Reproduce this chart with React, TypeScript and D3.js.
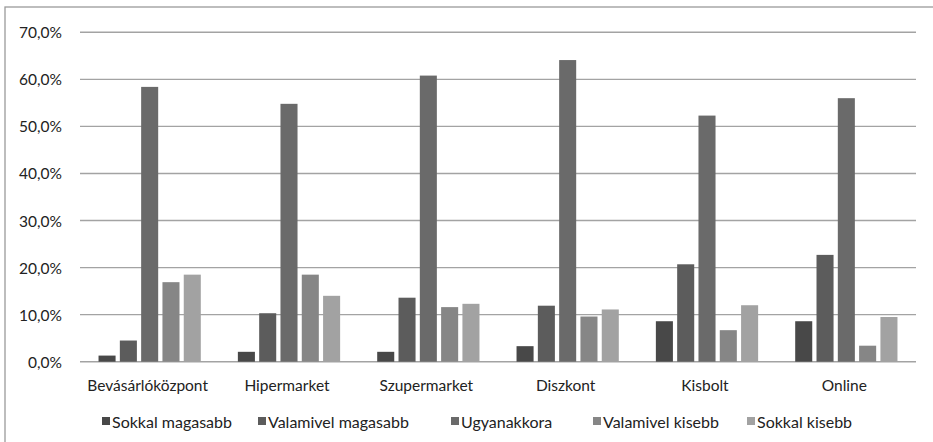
import React from "react";
import * as d3 from "d3";

const categories = ["Bevásárlóközpont", "Hipermarket", "Szupermarket", "Diszkont", "Kisbolt", "Online"];
const seriesNames = ["Sokkal magasabb", "Valamivel magasabb", "Ugyanakkora", "Valamivel kisebb", "Sokkal kisebb"];
const sokkalMagasabb = [1.3, 2.1, 2.1, 3.3, 8.6, 8.6];
const valamivelMagasabb = [4.5, 10.3, 13.6, 11.9, 20.7, 22.7];
const ugyanakkora = [58.4, 54.8, 60.8, 64.1, 52.3, 56.0];
const valamivelKisebb = [16.9, 18.5, 11.6, 9.6, 6.7, 3.4];
const sokkalKisebb = [18.5, 14.0, 12.3, 11.1, 12.0, 9.5];
const yTicks = [0, 10, 20, 30, 40, 50, 60, 70];

const seriesValues = [sokkalMagasabb, valamivelMagasabb, ugyanakkora, valamivelKisebb, sokkalKisebb];
const colors = ["#484848", "#5c5c5c", "#6a6a6a", "#868686", "#a2a2a2"];

const W = 933;
const H = 442;
const FONT = "Lato, 'Open Sans', sans-serif";

export default function App() {
  const left = 80;
  const right = 916;
  const top = 32.3;
  const bottom = 361.7;

  const x = d3.scaleBand<string>().domain(categories).range([left, right]).paddingInner(0).paddingOuter(0);
  const xs = d3
    .scaleBand<number>()
    .domain(d3.range(seriesNames.length))
    .range([0, x.bandwidth()])
    .paddingInner(0.2)
    .paddingOuter(0.87);
  const y = d3.scaleLinear().domain([0, 70]).range([bottom, top]);

  const fmt = (v: number) => v.toFixed(1).replace(".", ",") + "%";

  const legendX = [102, 258, 451, 593, 747];

  return (
    <svg width={W} height={H} style={{ position: "absolute", left: 0, top: 0, background: "#fff" }}>
      <rect x={5} y={7} width={W + 20} height={H + 20} fill="#fff" stroke="#9a9a9a" strokeWidth={1.3} />
      {yTicks.map((t) => (
        <g key={t}>
          <line x1={left} x2={right} y1={y(t)} y2={y(t)} stroke="#a3a3a3" strokeWidth={1.4} />
          <text
            x={62}
            y={y(t)}
            textAnchor="end"
            dominantBaseline="central"
            fontFamily={FONT}
            fontSize={15.5}
            fill="#222"
          >
            {fmt(t)}
          </text>
        </g>
      ))}
      {categories.map((c, ci) => (
        <g key={c}>
          {seriesValues.map((vals, si) => (
            <rect
              key={si}
              x={(x(c) as number) + (xs(si) as number)}
              y={y(vals[ci])}
              width={xs.bandwidth()}
              height={bottom - y(vals[ci])}
              fill={colors[si]}
            />
          ))}
          <text
            x={(x(c) as number) + x.bandwidth() / 2 - 2}
            y={385}
            textAnchor="middle"
            dominantBaseline="central"
            fontFamily={FONT}
            fontSize={15.5}
            fill="#222"
          >
            {c}
          </text>
        </g>
      ))}
      {seriesNames.map((s, i) => (
        <g key={s}>
          <rect x={legendX[i]} y={417} width={8} height={8} fill={colors[i]} />
          <text
            x={legendX[i] + 10}
            y={421}
            dominantBaseline="central"
            fontFamily={FONT}
            fontSize={16}
            fill="#222"
          >
            {s}
          </text>
        </g>
      ))}
    </svg>
  );
}
